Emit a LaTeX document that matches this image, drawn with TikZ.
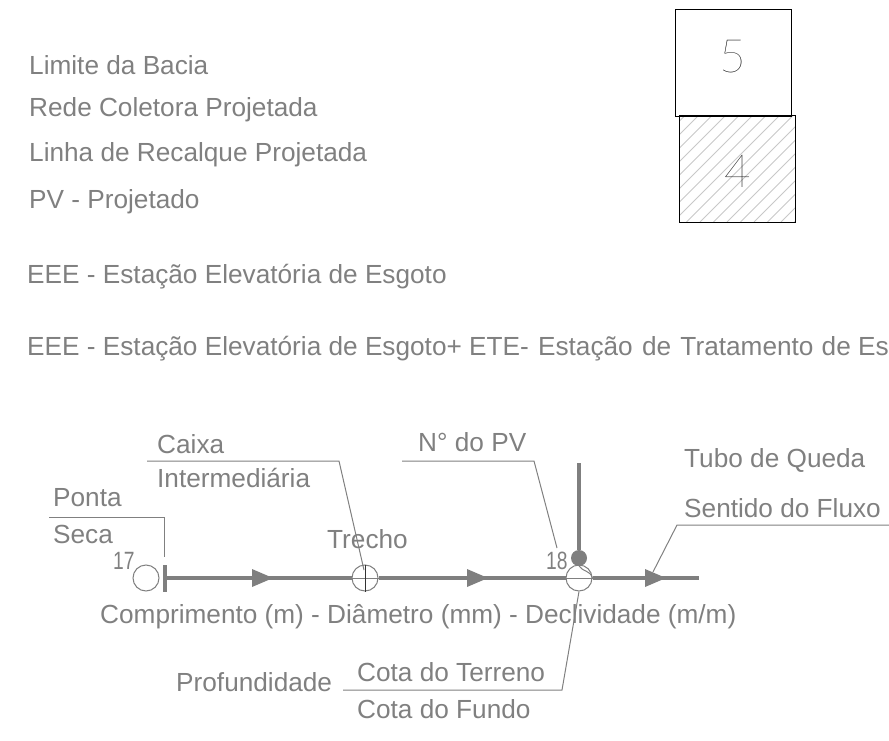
\documentclass[tikz,border=0pt]{standalone}
\usepackage{fontspec}
\setmainfont{Liberation Sans}
\newfontfamily\thindigit{Lato Hairline}
\definecolor{labeltxt}{HTML}{808080}
\definecolor{pipe}{HTML}{7F7F7F}
\definecolor{hatchc}{HTML}{C8C8C8}
\tikzset{
 lab/.style={anchor=base west,inner sep=0pt,text=labeltxt,font=\fontsize{26.2}{28}\selectfont},
 num/.style={anchor=base west,inner sep=0pt,text=labeltxt,xscale=.77,font=\fontsize{25}{27}\selectfont},
 bigdigit/.style={inner sep=0pt,text=black,font=\fontsize{46}{48}\thindigit},
 pipeline/.style={draw=pipe,line width=4pt},
 leader/.style={draw=labeltxt,line width=1pt},
 flow/.style={fill=pipe,draw=none},
 pvcircle/.style={circle,draw=labeltxt,fill=white,line width=1pt,minimum size=26pt,inner sep=0pt},
 sheet/.style={minimum width=116pt,minimum height=106pt,inner sep=0pt,anchor=north west},
}
\begin{document}
\begin{tikzpicture}[x=1pt,y=-1pt]
\useasboundingbox (0,0) rectangle (889,741);
\clip (0,0) rectangle (889,741);
% legend
\node[lab] (l1) at (29,75) {Limite da Bacia};
\node[lab] (l2) at (29,117) {Rede Coletora Projetada};
\node[lab] (l3) at (29,162) {Linha de Recalque Projetada};
\node[lab] (l4) at (29,208) {PV - Projetado};
\node[lab] (l5) at (27,283) {EEE - Estação Elevatória de Esgoto};
\node[lab] (l6) at (27,355) {EEE - Estação Elevatória de Esgoto+ ETE-\hspace{2pt} Estação\hspace{2pt} de\hspace{2pt} Tratamento\hspace{1pt} de Es};
% sheets
\node[sheet] (s5) at (675,10) {};
\node[sheet] (s4) at (679,116) {};
\begin{scope}
\clip (s4.north west) rectangle (s4.south east);
\foreach \k in {-9,...,9} \draw[hatchc,line width=1pt] (673+13.5*\k,222) -- ++(120,-120);
\end{scope}
\draw[black,line width=1pt] (s4.north west) rectangle (s4.south east);
\draw[black,line width=1pt] (s5.north west) rectangle (s5.south east);
\node[bigdigit] at (732.5,57) {5};
\node[bigdigit] at (737.5,171) {4};
% pipes
\coordinate (bar) at (165,578);
\coordinate (pipeend) at (699,578);
\node[pvcircle] (pv17) at (146,578) {};
\node[pvcircle] (ci) at (365,578) {};
\node[pvcircle] (pv18) at (579,578) {};
\coordinate (tubetop) at (579,463);
\node[circle,fill=pipe,minimum size=16pt,inner sep=0pt] (ball) at (579,558) {};
\draw[pipeline] (bar) -- (ci);
\draw[pipeline] (ci) -- (pv18);
\draw[pipeline] (pv18) -- (pipeend);
\draw[pipeline] (tubetop) -- (ball);
\draw[pipe,line width=4pt] (165,565) -- (165,592);
\fill[flow] (252,569) -- (273,578) -- (252,587) -- cycle;
\fill[flow] (467,569) -- (488,578) -- (467,587) -- cycle;
\fill[flow] (645,569) -- (666,578) -- (645,587) -- cycle;
% inside of circles
\draw[labeltxt,line width=.8pt] (ci.west) -- (ci.east);
\draw[black!80,line width=1pt] (ci.north) -- (ci.south);
\draw[labeltxt,line width=.8pt] (pv18.west) -- (pv18.east);
\draw[labeltxt,line width=1pt] (579,566) .. controls (583,572) and (590,570) .. (pv18.east);
% labels
\node[lab] (caixa) at (157,453) {Caixa};
\node[lab] (inter) at (157,487) {Intermediária};
\node[lab] (ponta) at (53,506) {Ponta};
\node[lab] (seca) at (53,543) {Seca};
\node[lab] (npv) at (418,451) {N° do PV};
\node[lab] (tubo) at (684,467) {Tubo de Queda};
\node[lab] (sent) at (684,517) {Sentido do Fluxo};
\node[lab] (trecho) at (327,548) {Trecho};
\node[lab] (comp) at (100,623) {Comprimento (m) - Diâmetro (mm) - Declividade (m/m)};
\node[lab] (prof) at (176,691) {Profundidade};
\node[lab] (terr) at (357,681) {Cota do Terreno};
\node[lab] (fundo) at (357,718) {Cota do Fundo};
\node[num] (n17) at (113,569) {17};
\node[num] (n18) at (546,569) {18};
% leaders
\coordinate (a1) at (49,517); \coordinate (a2) at (164,517); \coordinate (a3) at (164,557);
\draw[leader] (a1) -- (a2) -- (a3);
\coordinate (b1) at (147,461); \coordinate (b2) at (339,461); \coordinate (b3) at (364,570);
\draw[leader] (b1) -- (b2) -- (b3);
\coordinate (c1) at (402,461); \coordinate (c2) at (534,461); \coordinate (c3) at (557,548);
\draw[leader] (c1) -- (c2) -- (c3);
\coordinate (d1) at (677,525); \coordinate (d2) at (653,572); \coordinate (d0) at (889,525);
\draw[leader] (d0) -- (d1) -- (d2);
\coordinate (e1) at (343,690); \coordinate (e2) at (562,690);
\draw[leader] (e1) -- (e2) -- (pv18.south);
\end{tikzpicture}
\end{document}
